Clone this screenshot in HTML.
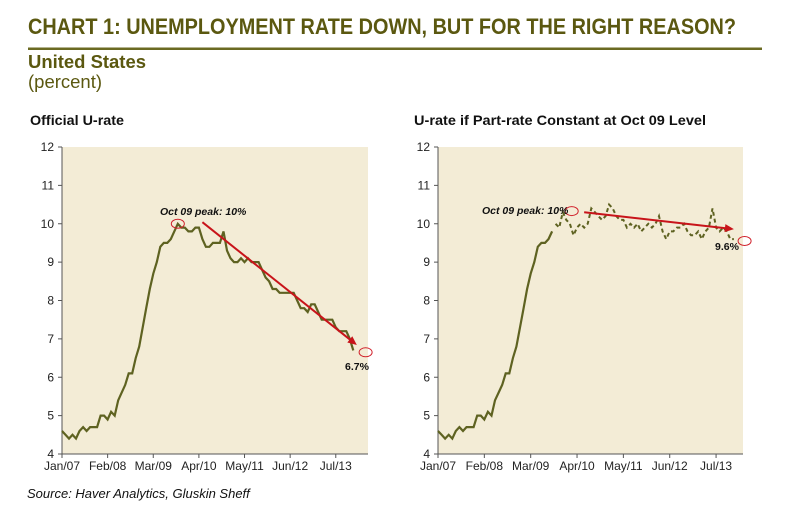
<!DOCTYPE html>
<html><head><meta charset="utf-8"><style>
body{margin:0;background:#fff;width:800px;height:517px;overflow:hidden;font-family:"Liberation Sans",sans-serif;}
</style></head><body>
<svg width="800" height="517" viewBox="0 0 800 517" xmlns="http://www.w3.org/2000/svg">
<text x="28" y="34" font-family="Liberation Sans Narrow, Liberation Sans, sans-serif" font-weight="bold" font-size="22" fill="#5b5810" textLength="708" lengthAdjust="spacingAndGlyphs">CHART 1: UNEMPLOYMENT RATE DOWN, BUT FOR THE RIGHT REASON?</text>
<rect x="28" y="47.5" width="734" height="2.5" fill="#6b6a22"/>
<text x="28" y="68" font-family="Liberation Sans Narrow, Liberation Sans, sans-serif" font-weight="bold" font-size="18" fill="#5b5810" textLength="118" lengthAdjust="spacingAndGlyphs">United States</text>
<text x="28" y="88" font-family="Liberation Sans Narrow, Liberation Sans, sans-serif" font-size="18" fill="#5b5810" textLength="74" lengthAdjust="spacingAndGlyphs">(percent)</text>
<text x="30" y="125" font-family="Liberation Sans Narrow, Liberation Sans, sans-serif" font-weight="bold" font-size="14" fill="#111" textLength="94" lengthAdjust="spacingAndGlyphs">Official U-rate</text>
<text x="414" y="125" font-family="Liberation Sans Narrow, Liberation Sans, sans-serif" font-weight="bold" font-size="14" fill="#111" textLength="292" lengthAdjust="spacingAndGlyphs">U-rate if Part-rate Constant at Oct 09 Level</text>
<text x="27" y="498" font-style="italic" font-size="13" fill="#111">Source: Haver Analytics, Gluskin Sheff</text>
<g id="left"></g><g id="right"></g>
</svg>
<script>
const official = [4.6,4.5,4.4,4.5,4.4,4.6,4.7,4.6,4.7,4.7,4.7,5.0,
5.0,4.9,5.1,5.0,5.4,5.6,5.8,6.1,6.1,6.5,6.8,7.3,
7.8,8.3,8.7,9.0,9.4,9.5,9.5,9.6,9.8,10.0,9.9,9.9,
9.8,9.8,9.9,9.9,9.6,9.4,9.4,9.5,9.5,9.5,9.8,9.3,
9.1,9.0,9.0,9.1,9.0,9.1,9.0,9.0,9.0,8.8,8.6,8.5,
8.3,8.3,8.2,8.2,8.2,8.2,8.2,8.0,7.8,7.8,7.7,7.9,
7.9,7.7,7.5,7.5,7.5,7.5,7.3,7.2,7.2,7.2,7.0,6.7];
const constPart = [10.0,9.9,10.3,
10.1,10.0,9.7,9.9,10.0,9.9,10.0,10.4,10.3,10.2,10.1,10.2,
10.5,10.4,10.2,10.1,10.1,9.9,10.0,9.9,10.0,9.8,9.9,10.0,
9.9,10.0,10.2,9.8,9.6,9.8,9.8,9.9,9.9,10.0,9.8,9.7,
9.7,9.8,9.6,9.8,9.9,10.4,9.9,9.8,9.9,9.8,9.6,9.6];
const constStart = 33;
const yTicks = [4,5,6,7,8,9,10,11,12];
const xTickLabels = ["Jan/07","Feb/08","Mar/09","Apr/10","May/11","Jun/12","Jul/13"];
const xTickMonths = [0,13,26,39,52,65,78];
const leftArrow = [[40,10.04],[84,6.84]];
const rightArrow = [[41,10.3],[83,9.86]];
const leftCircles = [[33,10.0],[86.5,6.65]];
const rightCircles = [[37.5,10.33],[86,9.55]];
const NS="http://www.w3.org/2000/svg";
function mk(parent,tag,attrs){const e=document.createElementNS(NS,tag);for(const k in attrs)e.setAttribute(k,attrs[k]);parent.appendChild(e);return e;}
function panel(g,x0,x1,pxPerMonth,side){
  const top=147,bot=454;
  const X=m=>x0+m*pxPerMonth, Y=v=>bot-(v-4)*(bot-top)/8;
  const bg=mk(g,'rect',{x:x0,y:top,width:x1-x0,height:bot-top,fill:'#f3ecd6'});
  
  
  mk(g,'line',{x1:x0,y1:top,x2:x0,y2:bot,stroke:'#555','stroke-width':1});
  mk(g,'line',{x1:x0,y1:bot,x2:x1,y2:bot,stroke:'#555','stroke-width':1});
  yTicks.forEach(v=>{
    mk(g,'line',{x1:x0-4,y1:Y(v),x2:x0,y2:Y(v),stroke:'#555'});
    const t=mk(g,'text',{x:x0-8,y:Y(v)+4,'text-anchor':'end','font-size':12,fill:'#222'});t.textContent=v;
    
    
  });
  xTickMonths.forEach((m,i)=>{
    mk(g,'line',{x1:X(m),y1:bot,x2:X(m),y2:bot+4,stroke:'#555'});
    const t=mk(g,'text',{x:X(m),y:bot+16,'text-anchor':'middle','font-size':12,fill:'#222'});t.textContent=xTickLabels[i];
    
    
  });
  return {X,Y};
}
function drawArrow(g,a,X,Y,side){
  const x1=X(a[0][0]),y1=Y(a[0][1]),x2=X(a[1][0]),y2=Y(a[1][1]);
  const ang=Math.atan2(y2-y1,x2-x1),L=9,W=4;
  const l=mk(g,'line',{x1,y1,x2:x2-Math.cos(ang)*6,y2:y2-Math.sin(ang)*6,stroke:'#c8141a','stroke-width':2});
  
  
  const bx=x2-Math.cos(ang)*L,by=y2-Math.sin(ang)*L;
  mk(g,'polygon',{points:`${x2},${y2} ${bx-Math.sin(ang)*W},${by+Math.cos(ang)*W} ${bx+Math.sin(ang)*W},${by-Math.cos(ang)*W}`,fill:'#c8141a'});
}
function circles(g,cs,X,Y,side){cs.forEach(c=>{const e=mk(g,'ellipse',{cx:X(c[0]),cy:Y(c[1]),rx:6.5,ry:4.5,fill:'none',stroke:'#d0202a','stroke-width':1});
  
  });}
function pathOf(vals,start,X,Y){return vals.map((v,i)=>(i?'L':'M')+X(start+i).toFixed(1)+','+Y(v).toFixed(1)).join(' ');}
const gl=document.getElementById('left');


let A=panel(gl,62,368,3.51,'left');
const pl=mk(gl,'path',{d:pathOf(official,0,A.X,A.Y),fill:'none',stroke:'#5e6221','stroke-width':2.2});


drawArrow(gl,leftArrow,A.X,A.Y,'left');circles(gl,leftCircles,A.X,A.Y,'left');
let t=mk(gl,'text',{x:160,y:215,'font-size':10.5,'font-weight':'bold','font-style':'italic',fill:'#111'});t.textContent='Oct 09 peak: 10%';


t=mk(gl,'text',{x:345,y:370,'font-size':10.5,'font-weight':'bold',fill:'#111'});t.textContent='6.7%';


const gr=document.getElementById('right');


let B=panel(gr,438,743,3.565,'right');
const ps=mk(gr,'path',{d:pathOf(official.slice(0,constStart),0,B.X,B.Y),fill:'none',stroke:'#5e6221','stroke-width':2.2});


const pd=mk(gr,'path',{d:pathOf(constPart,constStart,B.X,B.Y),fill:'none',stroke:'#5e6221','stroke-width':2,'stroke-dasharray':'4,3'});


drawArrow(gr,rightArrow,B.X,B.Y,'right');circles(gr,rightCircles,B.X,B.Y,'right');
t=mk(gr,'text',{x:482,y:214,'font-size':10.5,'font-weight':'bold','font-style':'italic',fill:'#111'});t.textContent='Oct 09 peak: 10%';


t=mk(gr,'text',{x:715,y:250,'font-size':10.5,'font-weight':'bold',fill:'#111'});t.textContent='9.6%';


</script>
</body></html>
